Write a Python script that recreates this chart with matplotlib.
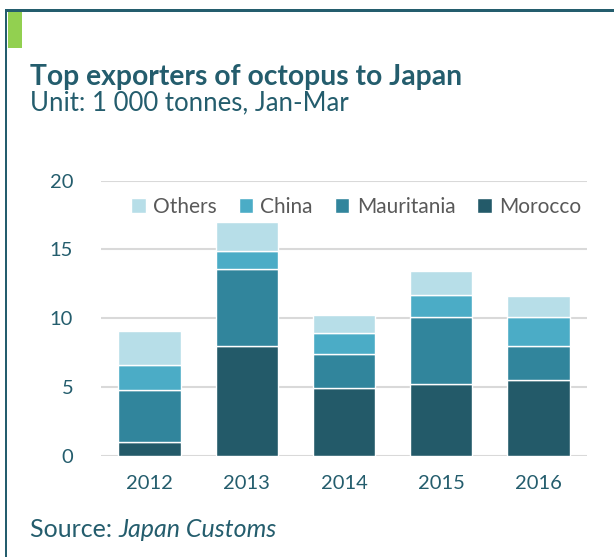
import matplotlib
matplotlib.use("Agg")
import matplotlib.pyplot as plt
from matplotlib.patches import Rectangle
import numpy as np

years = ["2012", "2013", "2014", "2015", "2016"]
morocco = [1.0, 8.0, 4.9, 5.2, 5.5]
mauritania = [3.8, 5.6, 2.5, 4.9, 2.5]
china = [1.8, 1.3, 1.5, 1.6, 2.1]
others = [2.5, 2.1, 1.3, 1.7, 1.5]
series_names = ["Morocco", "Mauritania", "China", "Others"]
yticks = [0, 5, 10, 15, 20]

colors = ["#235a69", "#31859c", "#4bacc6", "#b7dee8"]
teal = "#245d6d"

plt.rcParams['font.family'] = ['Lato', 'DejaVu Sans']

fig = plt.figure(figsize=(6.14, 5.57), dpi=100)
W, H = 614, 557

# frame lines
fig.add_artist(Rectangle((4.5 / W, 0), 3 / W, 1 - 9 / H, transform=fig.transFigure,
                         color=teal, lw=0))
fig.add_artist(Rectangle((4.5 / W, 1 - 12 / H), 1, 3 / H, transform=fig.transFigure,
                         color=teal, lw=0))
fig.add_artist(Rectangle((7.5 / W, 1 - 48 / H), 14 / W, 36 / H, transform=fig.transFigure,
                         color="#92d050", lw=0))

ax = fig.add_axes([101 / W, 1 - 455.7 / H, 486 / W, 275 / H])
x = np.arange(len(years))
bottom = np.zeros(len(years))
data = [morocco, mauritania, china, others]
bars = []
for vals, col, name in zip(data, colors, series_names):
    b = ax.bar(x, vals, width=0.64, bottom=bottom, color=col, edgecolor="white",
               linewidth=1.0, label=name, zorder=3)
    bars.append(b)
    bottom += np.array(vals)

ax.set_xlim(-0.5, len(years) - 0.5)
ax.set_ylim(0, 20)
ax.set_yticks(yticks)
ax.set_xticks(x)
ax.set_xticklabels(years)
ax.yaxis.grid(True, color="#d9d9d9", linewidth=1.5, zorder=0)
ax.set_axisbelow(True)
for s in ax.spines.values():
    s.set_visible(False)
ax.tick_params(axis="both", length=0, labelsize=14.5, labelcolor=teal)
ax.tick_params(axis="y", pad=20)
ax.tick_params(axis="x", pad=14)

handles = [bars[3], bars[2], bars[1], bars[0]]
labels = ["Others", "China", "Mauritania", "Morocco"]
leg = ax.legend(handles, labels, ncol=4, loc="center", bbox_to_anchor=(0.525, 0.905),
                frameon=False, fontsize=15, handlelength=0.7, handleheight=0.7,
                handletextpad=0.35, columnspacing=1.05, labelcolor="#595959",
                borderaxespad=0)

fig.text(30 / W, 1 - 84.5 / H, "Top exporters of octopus to Japan", fontsize=20.3,
         fontweight="bold", color=teal, va="baseline", ha="left")
fig.text(30 / W, 1 - 110 / H, "Unit: 1 000 tonnes, Jan-Mar", fontsize=18.5,
         color=teal, va="baseline", ha="left")
t1 = fig.text(30 / W, 1 - 537 / H, "Source: ", fontsize=18, color=teal,
              va="baseline", ha="left")
fig.canvas.draw()
bb = t1.get_window_extent()
fig.text(bb.x1 / W, 1 - 537 / H, "Japan Customs", fontsize=18, color=teal,
         style="italic", va="baseline", ha="left")

fig.savefig("out.png", dpi=100)
